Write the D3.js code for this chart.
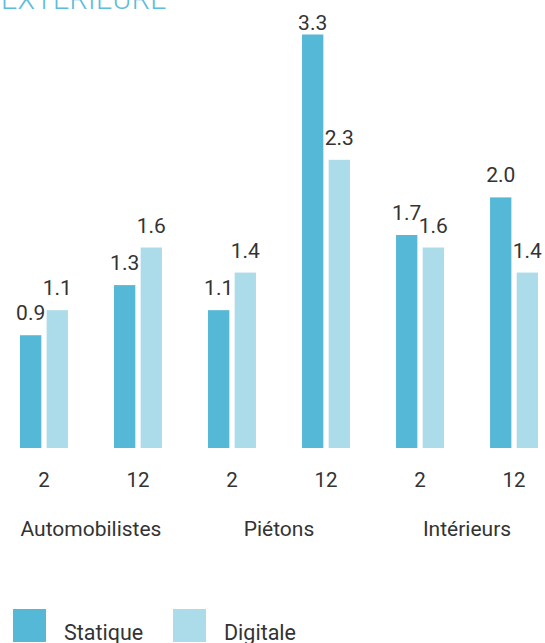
<!DOCTYPE html>
<html>
<head>
<meta charset="utf-8">
<script src="https://cdn.jsdelivr.net/npm/d3@7"></script>
<style>
    html, body { margin: 0; padding: 0; background: #fff; }
    svg { display: block; font-family: Roboto, "Noto Sans", sans-serif; }
</style>
</head>
<body>
<svg width="545" height="643"></svg>
<script>
const categories = ["Automobilistes", "Piétons", "Intérieurs"];
const durations = ["2", "12"];
const seriesNames = ["Statique", "Digitale"];
const statique = [0.9, 1.3, 1.1, 3.3, 1.7, 2.0];
const digitale = [1.1, 1.6, 1.4, 2.3, 1.6, 1.4];
const colors = ["#55b8d6", "#acdbea"];
const title = "EXTÉRIEURE";

const textColor = "#333";
const baseline = 448;
const labelGap = 15;
const labelTop = 30;

const groups = categories.flatMap(c => durations.map(d => ({ category: c, duration: d })));
groups.forEach((g, i) => {
    g.key = g.category + "-" + g.duration;
    g.values = [statique[i], digitale[i]];
});

const svg = d3.select("svg");

const x = d3.scaleBand(groups.map(g => g.key), [20, 538]).paddingInner(0.49);
const xInner = d3.scaleBand(seriesNames, [0, x.bandwidth()]).paddingInner(0.2);
const y = d3.scaleLinear([0, 3.3], [baseline, 34.5]);

// a category sits under its two duration groups
const categoryCenter = c => {
    let keys = groups.filter(g => g.category === c).map(g => g.key);
    return (x(keys[0]) + x(keys[keys.length - 1]) + x.bandwidth()) / 2;
}

const titleText = selection => {
    selection.append("text")
        .attr("x", 1)
        .attr("y", 8.5)
        .style("font-size", "28.5px")
        .style("font-weight", 300)
        .style("letter-spacing", "0.4px")
        .style("fill", "#5bbdd9")
        .text(title);
}

const bars = selection => {
    let g = selection.selectAll(".group")
        .data(groups)
        .join("g")
        .attr("class", "group")
        .attr("transform", d => `translate(${x(d.key)},0)`);
    let cells = d => d.values.map((v, i) => ({ name: seriesNames[i], value: v, color: colors[i] }));
    g.selectAll("rect")
        .data(cells)
        .join("rect")
        .attr("x", d => xInner(d.name))
        .attr("y", d => y(d.value))
        .attr("width", xInner.bandwidth())
        .attr("height", d => y(0) - y(d.value))
        .style("fill", d => d.color);
    g.selectAll(".value")
        .data(cells)
        .join("text")
        .attr("class", "value")
        .attr("x", d => xInner(d.name) + xInner.bandwidth() / 2)
        .attr("y", d => Math.max(y(d.value) - labelGap, labelTop))
        .attr("text-anchor", "middle")
        .style("font-size", "21px")
        .style("fill", textColor)
        .text(d => d.value.toFixed(1));
}

const xAxis = selection => {
    selection.selectAll(".tick-label")
        .data(groups)
        .join("text")
        .attr("class", "tick-label")
        .attr("x", d => x(d.key) + x.bandwidth() / 2)
        .attr("y", 487)
        .attr("text-anchor", "middle")
        .style("font-size", "20.5px")
        .style("fill", textColor)
        .text(d => d.duration);
    selection.selectAll(".category-label")
        .data(categories)
        .join("text")
        .attr("class", "category-label")
        .attr("x", categoryCenter)
        .attr("y", 536)
        .attr("text-anchor", "middle")
        .style("font-size", "21px")
        .style("fill", textColor)
        .text(d => d);
}

const legend = selection => {
    let item = selection.selectAll(".legend-item")
        .data(seriesNames)
        .join("g")
        .attr("class", "legend-item")
        .attr("transform", (d, i) => `translate(${13 + i * 160},609)`);
    item.append("rect")
        .attr("width", 33)
        .attr("height", 33)
        .style("fill", (d, i) => colors[i]);
    item.append("text")
        .attr("x", 51)
        .attr("y", 30.5)
        .style("font-size", "21.5px")
        .style("fill", textColor)
        .text(d => d);
}

svg
    .call(titleText)
    .call(bars)
    .call(xAxis)
    .call(legend);
</script>
</body>
</html>
